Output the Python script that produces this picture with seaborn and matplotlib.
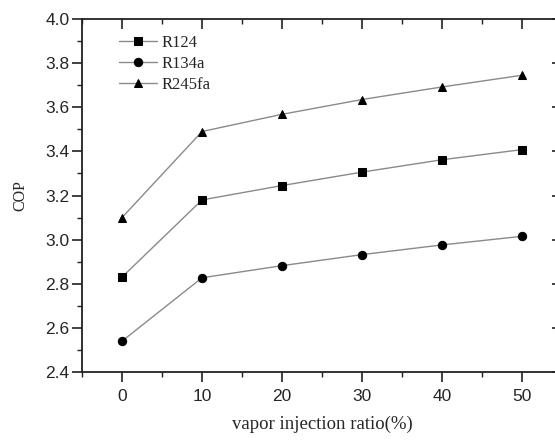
import numpy as np
import pandas as pd
import seaborn as sns
import matplotlib
matplotlib.use("Agg")
import matplotlib.pyplot as plt
from matplotlib.ticker import MultipleLocator, FormatStrFormatter
from matplotlib.lines import TICKDOWN, TICKLEFT

ratio = [0, 10, 20, 30, 40, 50]
r124 = [2.83, 3.18, 3.245, 3.306, 3.362, 3.408]
r134a = [2.54, 2.827, 2.882, 2.932, 2.976, 3.015]
r245fa = [3.10, 3.49, 3.568, 3.635, 3.692, 3.745]
labels = ["R124", "R134a", "R245fa"]
markers = ["s", "o", "^"]

sns.set_style("ticks")
plt.rcParams["font.family"] = ["Liberation Sans", "DejaVu Sans"]

fig = plt.figure(figsize=(5.55, 4.43), dpi=100)
ax = fig.add_axes([82/555, 71/443, 480/555, 353/443])

series = {"R124": r124, "R134a": r134a, "R245fa": r245fa}
msizes = {"s": 5.4, "o": 6.0, "^": 6.4}
for lab, mk in zip(labels, markers):
    df = pd.DataFrame({"x": ratio, "y": series[lab]})
    sns.lineplot(data=df, x="x", y="y", ax=ax, color="#8a8a8a", lw=1.0,
                 marker=mk, markersize=msizes[mk],
                 markerfacecolor="black", markeredgecolor="black",
                 label=lab, legend=False)

ax.set_xlim(-5, 55)
ax.set_ylim(2.4, 4.0)
ax.xaxis.set_major_locator(MultipleLocator(10))
ax.xaxis.set_minor_locator(MultipleLocator(5))
ax.yaxis.set_major_locator(MultipleLocator(0.2))
ax.yaxis.set_minor_locator(MultipleLocator(0.1))
ax.yaxis.set_major_formatter(FormatStrFormatter("%.1f"))

ax.tick_params(axis="x", which="both", bottom=True, top=True, direction="out", labelsize=12.5, pad=5)
ax.tick_params(axis="y", which="both", left=True, right=True, direction="out", labelsize=12.5, pad=2)
ax.tick_params(which="major", length=7, width=1.2, color="#222222")
ax.tick_params(which="minor", length=3.8, width=1.0, color="#222222")
for t in ax.xaxis.get_major_ticks() + ax.xaxis.get_minor_ticks():
    t.tick2line.set_marker(TICKDOWN)
for t in ax.yaxis.get_major_ticks() + ax.yaxis.get_minor_ticks():
    t.tick2line.set_marker(TICKLEFT)

for sp in ax.spines.values():
    sp.set_visible(True)
    sp.set_linewidth(1.3)
    sp.set_color("#222222")

ax.set_xlabel("vapor injection ratio(%)", family="Liberation Serif", fontsize=13.5, labelpad=9)
ax.set_ylabel("COP", family="Liberation Serif", fontsize=11.5, labelpad=12)

leg = ax.legend(loc="upper left", bbox_to_anchor=(0.045, 0.997), frameon=False,
                prop={"family": "Liberation Serif", "size": 12}, handlelength=2.3,
                handletextpad=0.3, labelspacing=0.3)

fig.savefig("out.png", dpi=100)
